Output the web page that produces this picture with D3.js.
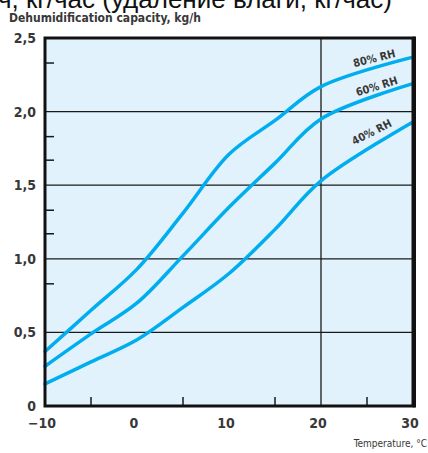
<!DOCTYPE html>
<html>
<head>
<meta charset="utf-8">
<script src="https://cdn.jsdelivr.net/npm/d3@7"></script>
<style>
  body { margin: 0; background: #fff; }
  svg { display: block; }
  .lbl { font-family: "Liberation Sans Narrow", "DejaVu Sans Condensed", "DejaVu Sans", sans-serif; font-stretch: condensed; font-weight: bold; fill: #383838; }
</style>
</head>
<body>
<div id="chart"></div>
<script>
// temperature points, deg C
var temps = [-10, -5, 0, 5, 10, 15, 20, 30]
// dehumidification capacity, kg/h
var rh80 = [0.37, 0.65, 0.93, 1.31, 1.71, 1.94, 2.17, 2.37]
var rh60 = [0.27, 0.49, 0.70, 1.02, 1.35, 1.65, 1.95, 2.19]
var rh40 = [0.15, 0.30, 0.45, 0.67, 0.90, 1.20, 1.53, 1.93]
var seriesNames = ['80% RH', '60% RH', '40% RH']
var xTickLabels = ['\u221210', '0', '10', '20', '30']
var xTickValues = [-10, 0, 10, 20, 30]
var xMinor = [-5, 5, 15, 25]
var yTickLabels = ['0', '0,5', '1,0', '1,5', '2,0', '2,5']
var yTickValues = [0, 0.5, 1, 1.5, 2, 2.5]
var yMinor = [2.33, 1.83, 1.67, 1.33, 1.17, 0.83]
var yGrid = [0.5, 1, 1.5, 2]
var xGrid = [20]

var drawChart = () => {
    var W = 428, H = 453
    var padLeft = 45, padRight = 413, padTop = 38, padBottom = 406

    var svg = d3.select('#chart').append('svg')
        .attr('width', W)
        .attr('height', H)

    var xScale = d3.scaleLinear().domain([-10, 30]).range([padLeft, padRight])
    var yScale = d3.scaleLinear().domain([0, 2.5]).range([padBottom, padTop])

    // cropped heading line at the very top
    svg.append('text')
        .attr('x', -2)
        .attr('y', 8)
        .style('font-family', '"Liberation Sans", Arial, sans-serif')
        .style('font-size', '26px')
        .style('fill', '#111')
        .text('ч, кг/час (удаление влаги, кг/час)')

    svg.append('text')
        .attr('class', 'lbl')
        .attr('x', 9)
        .attr('y', 22)
        .style('font-size', '12px')
        .text('Dehumidification capacity, kg/h')

    // plot background
    svg.append('rect')
        .attr('x', xScale(-10))
        .attr('y', yScale(2.5))
        .attr('width', xScale(30) - xScale(-10))
        .attr('height', yScale(0) - yScale(2.5))
        .style('fill', '#e1f2fc')

    // grid
    svg.append('g').selectAll('line')
        .data(yGrid).enter()
        .append('line')
        .attr('x1', xScale(-10)).attr('x2', xScale(30))
        .attr('y1', d => yScale(d)).attr('y2', d => yScale(d))
        .style('stroke', '#1a1a1a').style('stroke-width', 1.3)

    svg.append('g').selectAll('line')
        .data(xGrid).enter()
        .append('line')
        .attr('x1', d => xScale(d)).attr('x2', d => xScale(d))
        .attr('y1', yScale(0)).attr('y2', yScale(2.5))
        .style('stroke', '#1a1a1a').style('stroke-width', 1.3)

    // minor ticks, pointing inward
    svg.append('g').selectAll('line')
        .data(yMinor).enter()
        .append('line')
        .attr('x1', xScale(-10)).attr('x2', xScale(-10) + 9)
        .attr('y1', d => yScale(d)).attr('y2', d => yScale(d))
        .style('stroke', '#1a1a1a').style('stroke-width', 1.5)

    svg.append('g').selectAll('line')
        .data(xMinor).enter()
        .append('line')
        .attr('x1', d => xScale(d)).attr('x2', d => xScale(d))
        .attr('y1', yScale(0)).attr('y2', yScale(0) - 9)
        .style('stroke', '#1a1a1a').style('stroke-width', 1.5)

    // curves
    var line = d3.line()
        .x((d, i) => xScale(temps[i]))
        .y(d => yScale(d))
        .curve(d3.curveCatmullRom.alpha(0.5))

    var allSeries = [rh80, rh60, rh40]
    svg.append('g').selectAll('path')
        .data(allSeries).enter()
        .append('path')
        .attr('d', d => line(d))
        .style('fill', 'none')
        .style('stroke', '#00aeef')
        .style('stroke-width', 3.5)
        .style('stroke-linecap', 'round')

    // frame
    svg.append('rect')
        .attr('x', xScale(-10))
        .attr('y', yScale(2.5))
        .attr('width', xScale(30) - xScale(-10))
        .attr('height', yScale(0) - yScale(2.5))
        .style('fill', 'none')
        .style('stroke', '#111')
        .style('stroke-width', 3)
    svg.append('line')
        .attr('x1', xScale(30) + 1.5).attr('x2', xScale(30) + 1.5)
        .attr('y1', yScale(2.5) - 1.5).attr('y2', yScale(0) + 1.5)
        .style('stroke', '#111').style('stroke-width', 3)

    // series labels along the curves
    var labelPos = [
        { t: 26, dy: -3, rot: -14 },
        { t: 26.3, dy: -3, rot: -17 },
        { t: 25.9, dy: -7, rot: -27 }
    ]
    svg.append('g').selectAll('text')
        .data(seriesNames).enter()
        .append('text')
        .attr('class', 'lbl')
        .attr('text-anchor', 'middle')
        .style('font-size', '11px')
        .attr('transform', (d, i) => {
            var s = allSeries[i]
            var v = d3.scaleLinear().domain([20, 30]).range([s[6], s[7]])(labelPos[i].t)
            return 'translate(' + xScale(labelPos[i].t) + ',' + (yScale(v) + labelPos[i].dy) + ')rotate(' + labelPos[i].rot + ')translate(0,-4)'
        })
        .text(d => d)

    // axis labels
    svg.append('g').selectAll('text')
        .data(yTickValues).enter()
        .append('text')
        .attr('class', 'lbl')
        .attr('text-anchor', 'end')
        .attr('x', 36)
        .attr('y', d => yScale(d) + 5)
        .style('font-size', '14px')
        .text((d, i) => yTickLabels[i])

    svg.append('g').selectAll('text')
        .data(xTickValues).enter()
        .append('text')
        .attr('class', 'lbl')
        .attr('text-anchor', 'middle')
        .attr('x', d => xScale(d) - 3)
        .attr('y', 428)
        .style('font-size', '14px')
        .text((d, i) => xTickLabels[i])

    svg.append('text')
        .attr('class', 'lbl')
        .attr('text-anchor', 'end')
        .attr('x', 427)
        .attr('y', 447)
        .style('font-size', '10px')
        .style('font-weight', 'normal')
        .text('Temperature, °C')
}

drawChart()
</script>
</body>
</html>
